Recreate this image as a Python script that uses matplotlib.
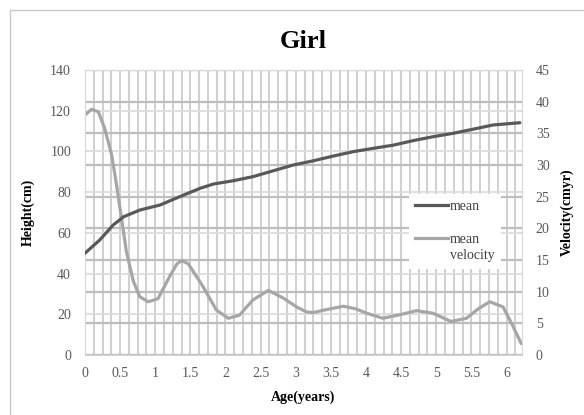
import numpy as np
import matplotlib
matplotlib.use("Agg")
import matplotlib.pyplot as plt
from matplotlib.lines import Line2D
from matplotlib.patches import Rectangle
from matplotlib.ticker import MultipleLocator

plt.rcParams['font.family'] = ['Liberation Serif', 'DejaVu Serif']

# mean height (cm), left axis
age_h = [0, 0.21, 0.40, 0.55, 0.78, 1.07, 1.35, 1.64, 1.83, 2.11, 2.39, 2.68,
         2.96, 3.25, 3.53, 3.82, 4.10, 4.39, 4.67, 4.95, 5.24, 5.52, 5.81, 6.19]
height = [50, 56.5, 63.8, 67.9, 71.2, 73.7, 77.8, 81.9, 84, 85.6, 87.6, 90.5,
          93.3, 95.4, 97.7, 99.9, 101.5, 103.1, 105.3, 107.2, 108.9, 110.9, 113, 114.1]

# mean velocity (cm/yr), right axis
age_v = [0, 0.095, 0.19, 0.28, 0.38, 0.45, 0.52, 0.59, 0.69, 0.78, 0.90, 1.04,
         1.21, 1.31, 1.38, 1.47, 1.68, 1.87, 2.04, 2.20, 2.39, 2.61, 2.82, 3.01,
         3.15, 3.25, 3.45, 3.68, 3.85, 4.01, 4.24, 4.5, 4.72, 4.95, 5.21, 5.43,
         5.6, 5.76, 5.95, 6.08, 6.21]
velocity = [37.9, 38.8, 38.4, 35.8, 31.6, 26.8, 21.6, 16.3, 11.6, 9.2, 8.4, 8.9,
            12.5, 14.4, 14.9, 14.4, 10.8, 7.1, 5.8, 6.3, 8.7, 10.2, 9.0, 7.6,
            6.8, 6.7, 7.2, 7.7, 7.3, 6.6, 5.8, 6.4, 7.0, 6.6, 5.3, 5.8,
            7.3, 8.4, 7.6, 4.8, 1.8]

xticks = np.arange(0, 6.01, 0.5)
xlabels = ['0', '0.5', '1', '1.5', '2', '2.5', '3', '3.5', '4', '4.5', '5', '5.5', '6']

fig = plt.figure(figsize=(5.84, 4.15), dpi=100)
fig.patches.append(Rectangle((10 / 584, -0.02), 1.0, 1 - 10 / 415 + 0.02,
                             transform=fig.transFigure, fill=False,
                             edgecolor='#c8c8c8', linewidth=1))

ax = fig.add_axes([0.1455, 0.1446, 0.7483, 0.6867])
ax2 = ax.twinx()
ax3 = ax.twinx()

ax.set_xlim(0, 6.22)
ax.set_ylim(0, 140)
ax2.set_ylim(0, 45)
ax3.set_ylim(0, 140)

# grids
ax.set_xticks(xticks)
ax.set_xticklabels(xlabels)
ax.xaxis.set_minor_locator(MultipleLocator(0.125))
ax.grid(axis='x', which='both', color='#cfcfcf', linewidth=1.4)
ax.yaxis.set_major_locator(MultipleLocator(20))
ax.grid(axis='y', which='major', color='#dcdcdc', linewidth=1.3)
ax2.yaxis.set_major_locator(MultipleLocator(5))
ax2.grid(axis='y', color='#bdbdbd', linewidth=1.6)
ax.set_axisbelow(True)
ax2.set_axisbelow(True)

ax2.plot(age_v, velocity, color='#a6a6a6', linewidth=2.3,
         solid_capstyle='round', solid_joinstyle='round')
ax3.plot(age_h, height, color='#595959', linewidth=2.3,
         solid_capstyle='round', solid_joinstyle='round')

for a in (ax, ax2, ax3):
    for s in a.spines.values():
        s.set_color('#d9d9d9')
ax3.axis('off')

ax.tick_params(axis='x', which='both', length=0, pad=9, labelsize=10, colors='#595959')
ax.tick_params(axis='y', length=0, pad=10, labelsize=10, colors='#595959')
ax2.tick_params(axis='y', length=0, pad=10, labelsize=10, colors='#595959')

ax.set_xlabel('Age(years)', fontsize=10, fontweight='bold')
ax.xaxis.set_label_coords(0.5, -0.125)
ax.set_ylabel('Height(cm)', fontsize=10, fontweight='bold')
ax.yaxis.set_label_coords(-0.115, 0.5)
ax2.set_ylabel('Velocity(cmyr)', fontsize=10, fontweight='bold', rotation=90)
ax2.yaxis.set_label_coords(1.088, 0.5)

fig.text(0.519, 0.9, 'Girl', fontsize=19, fontweight='bold', ha='center', va='center')

blank = Line2D([], [], color='none')
handles = [Line2D([], [], color='#595959', linewidth=2.3), blank,
           Line2D([], [], color='#a6a6a6', linewidth=2.3), blank]
leg = ax3.legend(handles, ['mean', ' ', 'mean', 'velocity'], loc='upper left',
                 bbox_to_anchor=(0.725, 0.59), frameon=True, fancybox=False,
                 fontsize=10, handlelength=2.4, handletextpad=0.1,
                 labelspacing=0.25, borderpad=0.45, labelcolor='#404040')
leg.get_frame().set_facecolor('white')
leg.get_frame().set_edgecolor('none')
leg.get_frame().set_alpha(1)

fig.savefig('out.png', dpi=100)
